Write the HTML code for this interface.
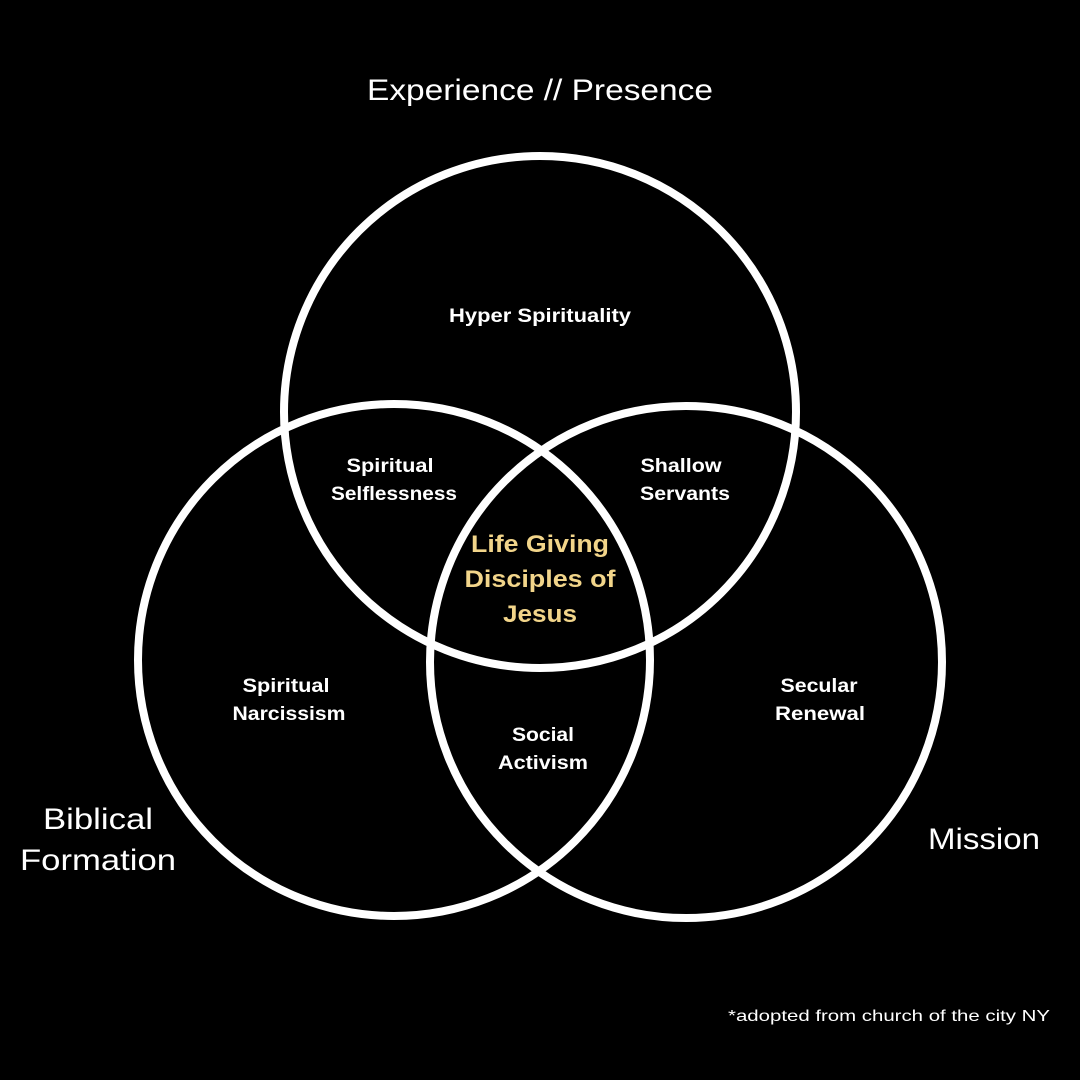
<!DOCTYPE html>
<html><head><meta charset="utf-8"><style>
html,body{margin:0;padding:0;background:#000;}
svg{display:block}
text{font-family:"Liberation Sans",sans-serif;fill:#fff;text-anchor:middle}
.b{font-weight:bold;font-size:19px}
.t{font-size:30px}
.y{fill:#f2d58a;font-weight:bold;font-size:24px}
</style></head><body>
<svg width="1080" height="1080" viewBox="0 0 1080 1080">
<rect width="1080" height="1080" fill="#000"/>
<g fill="none" stroke="#fff" stroke-width="8">
<circle cx="540" cy="412" r="256"/>
<circle cx="394" cy="660" r="256"/>
<circle cx="686" cy="662" r="256"/>
</g>
<text class="t" x="540" y="100" textLength="346" lengthAdjust="spacingAndGlyphs">Experience // Presence</text>
<text class="b" x="540" y="322" textLength="182" lengthAdjust="spacingAndGlyphs">Hyper Spirituality</text>
<text class="b" x="390" y="472" textLength="87" lengthAdjust="spacingAndGlyphs">Spiritual</text>
<text class="b" x="394" y="500" textLength="126" lengthAdjust="spacingAndGlyphs">Selflessness</text>
<text class="b" x="681" y="472" textLength="81" lengthAdjust="spacingAndGlyphs">Shallow</text>
<text class="b" x="685" y="500" textLength="90" lengthAdjust="spacingAndGlyphs">Servants</text>
<text class="y" x="540" y="552" textLength="138" lengthAdjust="spacingAndGlyphs">Life Giving</text>
<text class="y" x="540" y="587" textLength="151" lengthAdjust="spacingAndGlyphs">Disciples of</text>
<text class="y" x="540" y="622" textLength="74" lengthAdjust="spacingAndGlyphs">Jesus</text>
<text class="b" x="286" y="692" textLength="87" lengthAdjust="spacingAndGlyphs">Spiritual</text>
<text class="b" x="289" y="720" textLength="113" lengthAdjust="spacingAndGlyphs">Narcissism</text>
<text class="b" x="819" y="692" textLength="77" lengthAdjust="spacingAndGlyphs">Secular</text>
<text class="b" x="820" y="720" textLength="90" lengthAdjust="spacingAndGlyphs">Renewal</text>
<text class="b" x="543" y="741" textLength="62" lengthAdjust="spacingAndGlyphs">Social</text>
<text class="b" x="543" y="769" textLength="90" lengthAdjust="spacingAndGlyphs">Activism</text>
<text class="t" x="98" y="829" textLength="110" lengthAdjust="spacingAndGlyphs">Biblical</text>
<text class="t" x="98" y="870" textLength="156" lengthAdjust="spacingAndGlyphs">Formation</text>
<text class="t" x="984" y="849" textLength="112" lengthAdjust="spacingAndGlyphs">Mission</text>
<text x="889" y="1021" style="font-size:16px" textLength="322" lengthAdjust="spacingAndGlyphs">*adopted from church of the city NY</text>
</svg>
</body></html>
